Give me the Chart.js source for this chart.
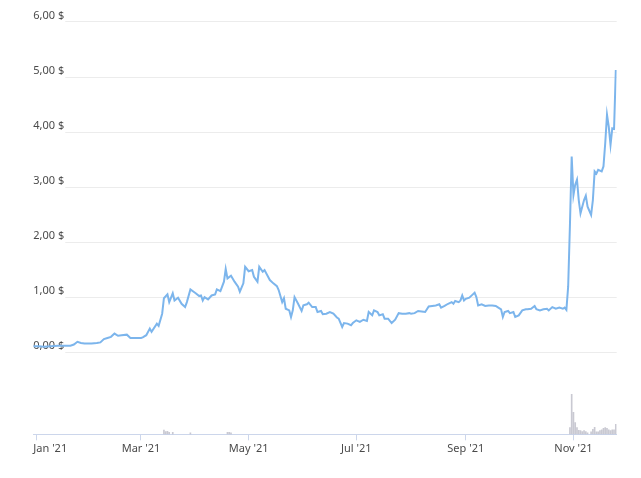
<!DOCTYPE html>
<html>
<head>
<meta charset="utf-8">
<script src="https://cdn.jsdelivr.net/npm/chart.js@4"></script>
<style>
  html, body { margin: 0; padding: 0; background: #fff; }
  #wrap { width: 641px; height: 478px; position: relative; }
</style>
</head>
<body>
<div id="wrap"><canvas id="priceChart"></canvas></div>
<script>
// Days counted from 1 Jan 2021 (day 0)
const priceDays = [
  -2, 1, 4, 8, 12, 15, 19, 21, 23, 25,
  27, 31, 34, 36, 38, 40, 42, 44, 46, 48,
  51, 53, 56, 59, 60, 62, 64, 65, 68, 69,
  71, 72, 74, 75, 77, 78, 80, 82, 84, 85,
  87, 90, 92, 93, 94, 95, 97, 99, 101, 102,
  104, 106, 107, 108, 110, 112, 114, 115, 117, 118,
  120, 122, 123, 125, 126, 128, 129, 131, 132, 134,
  136, 137, 139, 140, 141, 143, 144, 145, 146, 148,
  150, 151, 153, 154, 156, 158, 159, 161, 162, 164,
  166, 168, 170, 171, 173, 174, 176, 178, 179, 181,
  183, 185, 187, 188, 190, 191, 193, 194, 196, 197,
  199, 201, 203, 205, 207, 209, 211, 212, 214, 216,
  218, 220, 222, 224, 226, 228, 229, 231, 233, 235,
  236, 237, 239, 240, 241, 242, 243, 245, 247, 248,
  249, 250, 252, 254, 256, 258, 260, 261, 263, 264,
  265, 267, 268, 270, 271, 273, 275, 277, 278, 280,
  282, 283, 285, 287, 289, 290, 292, 294, 296, 298,
  299, 300, 301, 302, 303, 304, 305, 306, 307, 308,
  310, 311, 312, 314, 315, 316, 317, 318, 320, 321,
  322, 323, 324, 325, 326, 327, 328
];
const priceValues = [
  0.11, 0.11, 0.10, 0.11, 0.12, 0.12, 0.12, 0.14, 0.19, 0.17,
  0.16, 0.16, 0.17, 0.18, 0.24, 0.26, 0.28, 0.34, 0.30, 0.31,
  0.32, 0.26, 0.26, 0.26, 0.27, 0.31, 0.43, 0.37, 0.52, 0.48,
  0.70, 0.98, 1.05, 0.91, 1.07, 0.94, 0.99, 0.88, 0.82, 0.91,
  1.14, 1.07, 1.02, 1.03, 0.94, 1.00, 0.96, 1.03, 1.05, 1.14,
  1.11, 1.28, 1.51, 1.34, 1.39, 1.28, 1.19, 1.10, 1.25, 1.55,
  1.47, 1.49, 1.37, 1.28, 1.55, 1.46, 1.49, 1.37, 1.31, 1.25,
  1.20, 1.13, 0.91, 0.98, 0.79, 0.76, 0.64, 0.76, 1.00, 0.88,
  0.75, 0.85, 0.87, 0.90, 0.82, 0.82, 0.73, 0.75, 0.69, 0.70,
  0.73, 0.70, 0.63, 0.61, 0.46, 0.53, 0.52, 0.49, 0.53, 0.58,
  0.55, 0.59, 0.57, 0.73, 0.67, 0.76, 0.73, 0.67, 0.69, 0.61,
  0.61, 0.53, 0.59, 0.71, 0.70, 0.70, 0.71, 0.70, 0.71, 0.75,
  0.74, 0.73, 0.83, 0.84, 0.85, 0.87, 0.81, 0.84, 0.88, 0.91,
  0.88, 0.93, 0.91, 0.94, 1.03, 0.94, 0.97, 0.99, 1.05, 1.08,
  1.00, 0.85, 0.87, 0.84, 0.85, 0.85, 0.84, 0.82, 0.78, 0.64,
  0.73, 0.75, 0.71, 0.73, 0.64, 0.67, 0.76, 0.78, 0.78, 0.79,
  0.84, 0.78, 0.76, 0.78, 0.79, 0.76, 0.82, 0.79, 0.81, 0.79,
  0.81, 0.77, 1.19, 2.30, 3.55, 2.85, 3.04, 3.13, 2.76, 2.52,
  2.76, 2.84, 2.64, 2.49, 2.76, 3.28, 3.24, 3.31, 3.28, 3.37,
  3.79, 4.31, 4.09, 3.76, 4.06, 4.05, 5.12
];

// volume (relative units)
const volumeDays = [72, 73, 74, 75, 77, 87, 108, 109, 110,
  302, 303, 304, 305, 306, 307, 308, 309, 310, 311, 312,
  314, 315, 316, 317, 318, 319, 320, 321, 322, 323, 324, 325, 326, 327, 328];
const volumeValues = [4.3, 2.7, 3, 2, 2, 1.5, 2, 2, 1.5,
  6.6, 40, 22, 11.6, 6.7, 4, 3.7, 2.7, 3.7, 2.7, 1.5,
  2.5, 5, 7, 2.5, 2.5, 3.7, 4.5, 6, 6.7, 6, 4.5, 3.7, 4.5, 4.5, 10];

const xTickDays = [0, 59, 120, 181, 243, 304];
const xTickLabels = ["Jan '21", "Mar '21", "May '21", "Jul '21", "Sep '21", "Nov '21"];
const priceTicks = [0, 1, 2, 3, 4, 5, 6];

const labelColor = '#4a4a4a';
const labelFont = "11px 'Noto Sans', sans-serif";

// gridlines start to the right of the floating y labels
const gridPlugin = {
    id: 'customGrid',
    beforeDatasetsDraw(chart) {
        const ctx = chart.ctx;
        const area = chart.chartArea;
        const y = chart.scales.y;
        ctx.save();
        ctx.strokeStyle = '#ececec';
        ctx.lineWidth = 1;
        priceTicks.forEach(v => {
            const py = Math.round(y.getPixelForValue(v)) + 0.5;
            ctx.beginPath();
            ctx.moveTo(area.left + 32, py);
            ctx.lineTo(area.right, py);
            ctx.stroke();
        });
        ctx.restore();
    }
};

// x labels, first one kept inside the plot
const xLabelPlugin = {
    id: 'xLabels',
    afterDraw(chart) {
        const ctx = chart.ctx;
        const area = chart.chartArea;
        const x = chart.scales.x;
        ctx.save();
        ctx.font = labelFont;
        ctx.fillStyle = labelColor;
        ctx.textBaseline = 'middle';
        ctx.textAlign = 'left';
        xTickDays.forEach((d, i) => {
            const txt = xTickLabels[i];
            const w = ctx.measureText(txt).width;
            let px = x.getPixelForValue(d) - w / 2;
            if (px < area.left) px = area.left;
            if (px + w > chart.width) px = chart.width - w;
            ctx.fillText(txt, px, x.top + 14.5);
        });
        ctx.restore();
    }
};

new Chart(document.getElementById('priceChart'), {
    type: 'line',
    data: {
        datasets: [
            {
                type: 'line',
                data: priceDays.map((d, i) => ({ x: d, y: priceValues[i] })),
                borderColor: '#7cb5ec',
                borderWidth: 2,
                pointRadius: 0,
                tension: 0,
                yAxisID: 'y',
                order: 1
            },
            {
                type: 'bar',
                data: volumeDays.map((d, i) => ({ x: d, y: volumeValues[i] })),
                backgroundColor: 'rgba(165, 165, 180, 0.6)',
                barThickness: 1,
                yAxisID: 'yVol',
                order: 2
            }
        ]
    },
    options: {
        responsive: true,
        maintainAspectRatio: false,
        animation: false,
        layout: { padding: { top: 21.4, left: 33.3, right: 24.3, bottom: 0 } },
        plugins: { legend: { display: false }, tooltip: { enabled: false } },
        scales: {
            x: {
                type: 'linear',
                min: -2,
                max: 328.5,
                offset: false,
                afterBuildTicks: s => { s.ticks = xTickDays.map(v => ({ value: v })); },
                afterFit: s => { s.height = 43.7; },
                grid: { offset: false, drawOnChartArea: false, drawTicks: true, tickLength: 6, color: '#ccd6eb' },
                border: { display: true, color: '#ccd6eb', width: 1 },
                ticks: { display: false }
            },
            y: {
                type: 'linear',
                position: 'left',
                min: -1.487,
                max: 6,
                afterBuildTicks: s => { s.ticks = priceTicks.map(v => ({ value: v })); },
                afterFit: s => { s.width = 0; },
                grid: { display: false },
                border: { display: false },
                ticks: {
                    mirror: true,
                    padding: 0,
                    labelOffset: -6,
                    color: labelColor,
                    font: { family: "'Noto Sans', sans-serif", size: 11 },
                    callback: v => v.toFixed(2).replace('.', ',') + ' $'
                }
            },
            yVol: {
                type: 'linear',
                display: false,
                min: 0,
                max: 412.9
            }
        }
    },
    plugins: [gridPlugin, xLabelPlugin]
});
</script>
</body>
</html>
